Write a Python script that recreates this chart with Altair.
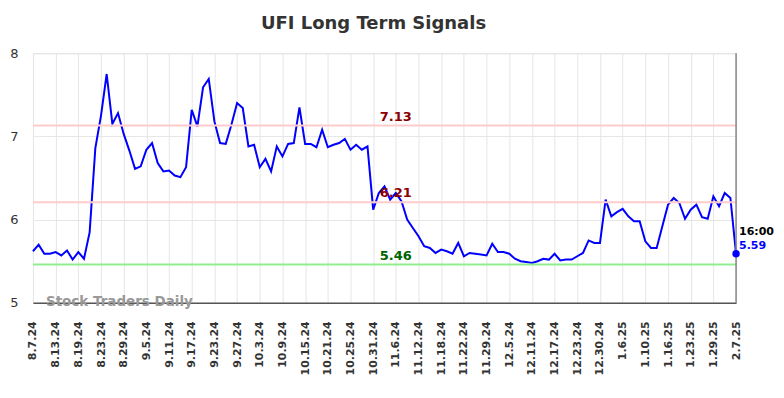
import json
import altair as alt
import pandas as pd

# Daily closing values (trading days 8.7.24 .. 2.7.25)
values = [
    5.62, 5.70, 5.59, 5.59, 5.61, 5.57, 5.63, 5.52, 5.61, 5.53,
    5.85, 6.86, 7.25, 7.75, 7.15, 7.28, 7.03, 6.83, 6.61, 6.64,
    6.84, 6.92, 6.68, 6.58, 6.59, 6.53, 6.51, 6.63, 7.32, 7.12,
    7.59, 7.69, 7.18, 6.92, 6.91, 7.14, 7.40, 7.34, 6.88, 6.90,
    6.63, 6.73, 6.58, 6.88, 6.76, 6.91, 6.92, 7.35, 6.91, 6.91,
    6.87, 7.08, 6.87, 6.90, 6.92, 6.97, 6.84, 6.90, 6.84, 6.88,
    6.12, 6.32, 6.40, 6.24, 6.32, 6.22, 6.00, 5.90, 5.80, 5.68,
    5.66, 5.60, 5.64, 5.62, 5.59, 5.72, 5.56, 5.60, 5.59, 5.58,
    5.57, 5.71, 5.61, 5.61, 5.59, 5.53, 5.50, 5.49, 5.48, 5.50,
    5.53, 5.52, 5.59, 5.51, 5.52, 5.52, 5.56, 5.60, 5.75, 5.72,
    5.72, 6.24, 6.04, 6.09, 6.13, 6.04, 5.98, 5.98, 5.74, 5.66,
    5.66, 5.92, 6.18, 6.26, 6.20, 6.01, 6.12, 6.18, 6.03, 6.01,
    6.28, 6.16, 6.32, 6.26, 5.59,
]

tick_labels = [
    "8.7.24", "8.13.24", "8.19.24", "8.23.24", "8.29.24", "9.5.24", "9.11.24",
    "9.17.24", "9.23.24", "9.27.24", "10.3.24", "10.9.24", "10.15.24", "10.21.24",
    "10.25.24", "10.31.24", "11.6.24", "11.12.24", "11.18.24", "11.22.24",
    "11.29.24", "12.5.24", "12.11.24", "12.17.24", "12.23.24", "12.30.24",
    "1.6.25", "1.10.25", "1.16.25", "1.23.25", "1.29.25", "2.7.25",
]
tick_step = 4

level_values = [7.13, 6.21, 5.46]
level_labels = ["7.13", "6.21", "5.46"]
level_line_colors = ["#ffcccc", "#ffcccc", "#90ee90"]
level_text_colors = ["#8b0000", "#8b0000", "#006400"]

last_time = "16:00"

n = len(values)
df = pd.DataFrame({"i": list(range(n)), "v": values})
levels_df = pd.DataFrame({
    "lv": level_values, "label": level_labels,
    "lc": level_line_colors, "tc": level_text_colors,
})
last_df = pd.DataFrame({"i": [n - 1], "v": [values[-1]],
                        "t": [last_time], "vl": [f"{values[-1]:.2f}"]})

FONT = "DejaVu Sans"
tick_values = [k * tick_step for k in range(len(tick_labels))]
label_expr = f"{json.dumps(tick_labels)}[round(datum.value / {tick_step})]"

x_scale = alt.Scale(domain=[0, n - 1], nice=False, zero=False)
y_scale = alt.Scale(domain=[5, 8], nice=False, zero=False)

x_enc = alt.X(
    "i:Q", scale=x_scale,
    axis=alt.Axis(
        values=tick_values, tickCount=100, labelExpr=label_expr,
        labelAngle=-90, labelFont=FONT, labelFontWeight="bold",
        labelFontSize=11, labelColor="#333333", labelPadding=18,
        labelOverlap=False, labelFlush=False,
        ticks=False, tickSize=0, grid=True, gridColor="#e6e6e6",
        domainColor="#555555", domainWidth=1.5, title=None,
    ),
)
y_enc = alt.Y(
    "v:Q", scale=y_scale,
    axis=alt.Axis(
        values=[5, 6, 7, 8], tickCount=10, format="d", labelFont=FONT, labelFontSize=13,
        labelColor="#333333", labelPadding=15, ticks=False, tickSize=0,
        domain=False, grid=True, gridColor="#e6e6e6", title=None,
    ),
)

def xq(field="i"):
    return alt.X(f"{field}:Q", scale=x_scale)

def yq(field="v"):
    return alt.Y(f"{field}:Q", scale=y_scale)

line = alt.Chart(df).mark_line(color="#0000ff", strokeWidth=2).encode(x=x_enc, y=y_enc)

rules = alt.Chart(levels_df).mark_rule(strokeWidth=2).encode(
    y=yq("lv"),
    color=alt.Color("lc:N", scale=None),
)

level_text = alt.Chart(levels_df).mark_text(
    font=FONT, fontWeight="bold", fontSize=13, baseline="bottom", dy=-2,
).encode(
    x=alt.datum(64, scale=x_scale),
    y=yq("lv"),
    text="label:N",
    color=alt.Color("tc:N", scale=None),
)

right_rule = alt.Chart(last_df).mark_rule(color="#888888", strokeWidth=1.5).encode(
    x=xq()
)

last_pt = alt.Chart(last_df).mark_circle(size=55, color="#0000ff", opacity=1).encode(
    x=xq(), y=yq()
)

last_time_txt = alt.Chart(last_df).mark_text(
    font=FONT, fontWeight="bold", fontSize=11, align="left", baseline="alphabetic",
    dx=3, dy=-19, color="#000000",
).encode(x=xq(), y=yq(), text="t:N")

last_val_txt = alt.Chart(last_df).mark_text(
    font=FONT, fontWeight="bold", fontSize=11, align="left", baseline="alphabetic",
    dx=3, dy=-5, color="#0000ff",
).encode(x=xq(), y=yq(), text="vl:N")

watermark = alt.Chart(last_df).mark_text(
    text="Stock Traders Daily", font=FONT, fontWeight="bold", fontSize=13.5,
    align="left", baseline="alphabetic", color="#999999",
).encode(x=alt.value(13), y=alt.value(253))

chart = alt.layer(
    line, rules, level_text, right_rule, last_pt, last_time_txt, last_val_txt, watermark
).properties(
    width=704, height=250,
    title=alt.TitleParams(
        "UFI Long Term Signals", font=FONT, fontSize=18, fontWeight="bold",
        color="#333333", anchor="middle", offset=14, dx=-11,
    ),
    autosize=alt.AutoSizeParams(type="none"),
    padding={"left": 25, "top": 45, "right": 40, "bottom": 82},
).configure_view(stroke=None).configure(font=FONT)

chart.save("out.html", embed_options={"renderer": "svg", "actions": False})
